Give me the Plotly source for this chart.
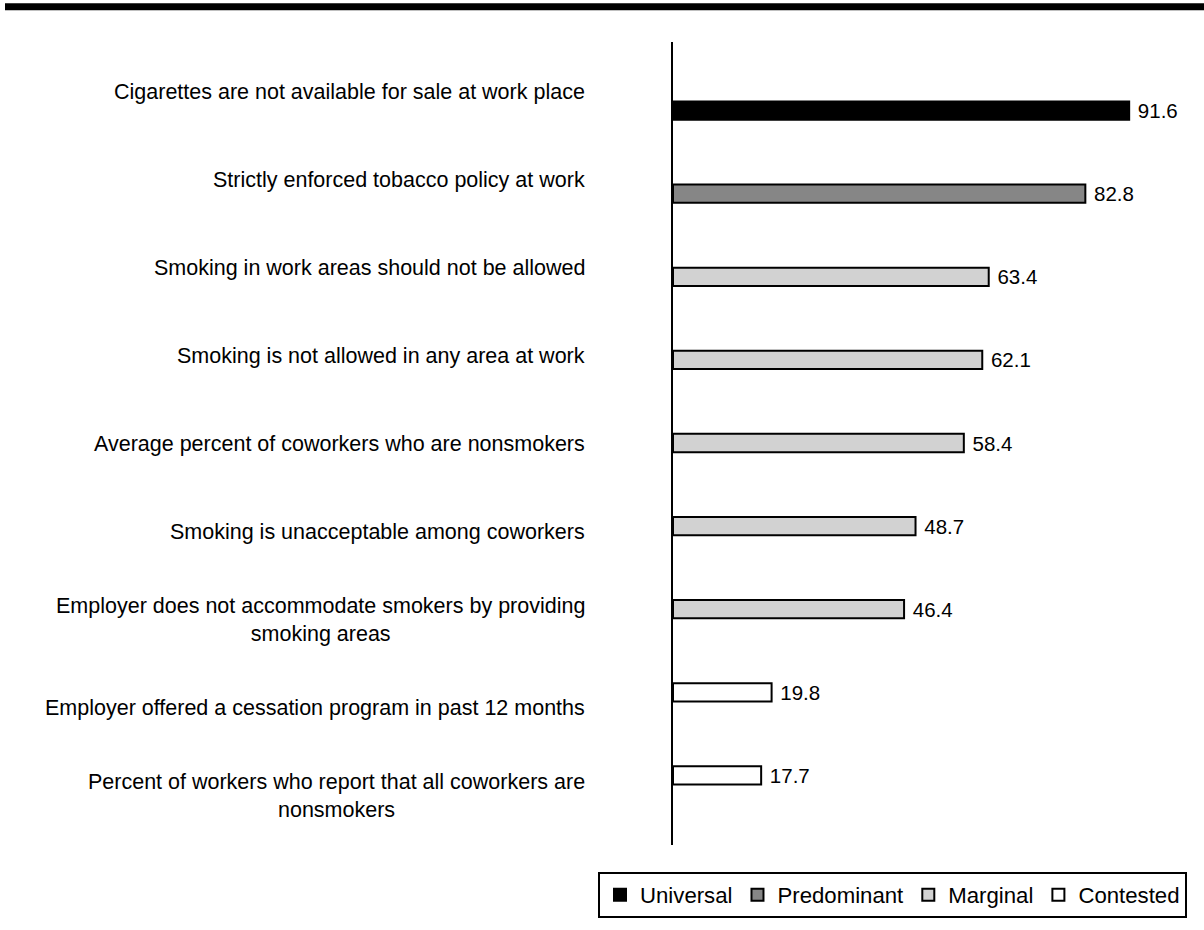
import plotly.graph_objects as go

# ---- data ----
labels = [
    "Cigarettes are not available for sale at work place",
    "Strictly enforced tobacco policy at work",
    "Smoking in work areas should not be allowed",
    "Smoking is not allowed in any area at work",
    "Average percent of coworkers who are nonsmokers",
    "Smoking is unacceptable among coworkers",
    "Employer does not accommodate smokers by providing<br>smoking areas",
    "Employer offered a cessation program in past 12 months",
    "Percent of workers who report that all coworkers are<br>nonsmokers",
]
values = [91.6, 82.8, 63.4, 62.1, 58.4, 48.7, 46.4, 19.8, 17.7]
groups = ["Universal", "Predominant", "Marginal", "Marginal", "Marginal",
          "Marginal", "Marginal", "Contested", "Contested"]
group_names = ["Universal", "Predominant", "Marginal", "Contested"]

# ---- styles ----
group_colors = {
    "Universal": "#000000",
    "Predominant": "#868686",
    "Marginal": "#d2d2d2",
    "Contested": "#ffffff",
}
FONT = "Liberation Sans, Arial, sans-serif"
W, H = 1204, 930
ML, MR, MT, MB = 673, 33, 42, 80
PW, PH = W - ML - MR, H - MT - MB


def px_x(px):
    return (px - ML) / PW


def px_y(py):
    return (PH - (py - MT)) / PH


fig = go.Figure()
for g in group_names:
    ys = [l for l, gg in zip(labels, groups) if gg == g]
    xs = [v for v, gg in zip(values, groups) if gg == g]
    fig.add_trace(go.Bar(
        x=xs, y=ys, name=g, orientation="h",
        width=0.22,
        marker=dict(color=group_colors[g], line=dict(color="#000000", width=2)),
        texttemplate="\u00a0%{x:.1f}", textposition="outside",
        textfont=dict(size=20.5, color="#000000", family=FONT),
        constraintext="none", cliponaxis=False,
        hoverinfo="skip",
    ))

# helper axis carrying the left-hand labels
fig.add_trace(go.Scatter(
    x=[0] * len(labels), y=list(range(len(labels))), yaxis="y2",
    mode="markers", marker=dict(opacity=0), showlegend=False, hoverinfo="skip",
))

annotations = []
for i, lab in enumerate(labels):
    annotations.append(dict(
        x=px_x(587), xref="paper", y=i, yref="y2", text=lab,
        xanchor="right", yanchor="middle", align="center", showarrow=False,
        font=dict(size=21.5, color="#000000", family=FONT),
    ))

fig.update_layout(
    width=W, height=H,
    margin=dict(l=ML, r=MR, t=MT, b=MB),
    plot_bgcolor="#ffffff", paper_bgcolor="#ffffff",
    barmode="overlay",
    font=dict(family=FONT, size=20.5, color="#000000"),
    xaxis=dict(range=[0, 100], showgrid=False, zeroline=False, showline=False,
               showticklabels=False, ticks=""),
    yaxis=dict(type="category", categoryorder="array", categoryarray=labels,
               range=[8.837, -0.825], showgrid=False, zeroline=False,
               showline=True, linecolor="#000000", linewidth=2,
               showticklabels=False, ticks=""),
    yaxis2=dict(overlaying="y", range=[8.561, -0.568], visible=False,
                showgrid=False, zeroline=False),
    legend=dict(orientation="h", x=px_x(598), xanchor="left",
                y=px_y(877), yanchor="top",
                bordercolor="#000000", borderwidth=2,
                font=dict(size=22.2, color="#000000", family=FONT),
                traceorder="normal", itemwidth=30),
    annotations=annotations,
    shapes=[dict(type="rect", xref="paper", yref="paper",
                 x0=px_x(5), x1=px_x(W),
                 y0=px_y(10), y1=px_y(3),
                 fillcolor="#000000", line=dict(width=0))],
    showlegend=True,
)

fig.write_html("out.html", post_script="document.body.style.margin='0px';",
               config={"displayModeBar": False})
